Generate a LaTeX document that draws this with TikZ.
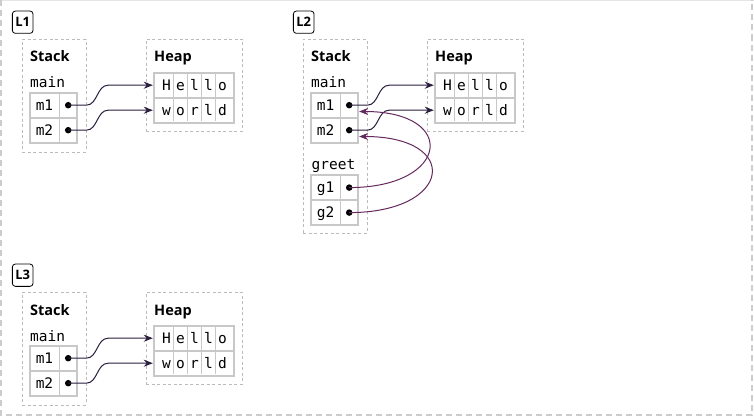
\documentclass[tikz,border=0pt]{standalone}
\usepackage{fontspec}
\setmainfont{Open Sans}
\newfontfamily\monof{DejaVu Sans Mono}
\usetikzlibrary{arrows.meta,calc}
\definecolor{ptrA}{HTML}{2B1F3F}
\definecolor{ptrB}{HTML}{66295F}
\definecolor{cellgray}{HTML}{C8C8C8}
\definecolor{framegray}{HTML}{BBBBBB}
\tikzset{
 lbl/.style={draw=black, line width=0.8pt, rounded corners=3pt, minimum width=20.7pt, minimum height=22.3pt, inner sep=0pt, font=\fontsize{13}{13}\selectfont\bfseries},
 frm/.style={draw=framegray, dash pattern=on 3pt off 2.5pt, line width=0.7pt, inner sep=0pt},
 ttl/.style={anchor=base west, inner sep=0pt, font=\fontsize{14.5}{14}\selectfont\bfseries},
 fname/.style={anchor=base west, inner sep=0pt, font=\monof\fontsize{14.5}{14}\selectfont},
 rowbox/.style={draw=cellgray, line width=2pt, inner sep=0pt, outer sep=0pt, minimum height=25pt},
 txtcell/.style={inner sep=0pt, text height=10pt, text depth=0pt, font=\monof\fontsize{14.5}{14}\selectfont},
 dotn/.style={circle, fill=black, inner sep=0pt, minimum size=6.5pt},
 divline/.style={draw=cellgray, line width=1pt},
 ptr/.style={draw=ptrA, line width=1pt, -{Stealth[length=9pt,width=7pt]}, shorten >=1.5pt},
 gptr/.style={draw=ptrB, line width=1pt, -{Stealth[length=9pt,width=7pt]}},
 outerframe/.style={draw=black!20, line width=2pt, dash pattern=on 6pt off 4pt},
}
% #1 prefix, #2 label, #3 stack frame height
\newcommand\memblock[3]{%
 \node[lbl] (#1lab) at (22.7,22.2) {#2};
 \node[frm, minimum width=63.5pt, minimum height=#3pt, anchor=north west] (#1stk) at (22,39) {};
 \node[frm, minimum width=96pt, minimum height=92pt] (#1hp) at (194,85) {};
 \node[ttl] (#1st) at (30,62) {Stack};
 \node[ttl] (#1ht) at (154,62) {Heap};
 \node[fname] (#1mn) at (30,88) {main};
 \node[rowbox, minimum width=47.3pt] (#1s1) at (53.65,105.2) {};
 \node[rowbox, minimum width=47.3pt] (#1s2) at (53.65,130.2) {};
 \draw[divline] ($(#1s1.north west)+(29,0)$) -- ($(#1s2.south west)+(29,0)$);
 \node[txtcell] (#1n1) at (44.5,105.2) {m1};
 \node[txtcell] (#1n2) at (44.5,130.2) {m2};
 \node[dotn] (#1d1) at (68.2,105.2) {};
 \node[dotn] (#1d2) at (68.2,130.2) {};
 \node[rowbox, minimum width=80pt] (#1h1) at (194.3,85.2) {};
 \node[rowbox, minimum width=80pt] (#1h2) at (194.3,110.2) {};
 \foreach \c [count=\i from 0] in {H,e,l,l,o} {\node[txtcell] (#1a\i) at ({166.5+14*\i},85.2) {\c};}
 \foreach \c [count=\i from 0] in {w,o,r,l,d} {\node[txtcell] (#1b\i) at ({166.5+14*\i},110.2) {\c};}
 \foreach \i in {0,...,3} {\draw[divline] ({173.5+14*\i},74) -- ({173.5+14*\i},121);}
 \draw[ptr] (#1d1.center) -- ++(18,0) to[out=0,in=180] ++(22,-20) -- (#1h1.west);
 \draw[ptr] (#1d2.center) -- ++(18,0) to[out=0,in=180] ++(22,-20) -- (#1h2.west);
}
\begin{document}
\begin{tikzpicture}[x=1pt,y=-1pt]
\useasboundingbox (0,0) rectangle (754,417);
\fill[white] (0,0) rectangle (754,417);
\draw[black!10, line width=1pt] (0,0.5) -- (754,0.5);
\draw[outerframe] (1,0) -- (1,415) -- (751.5,415) -- (751.5,0);
\begin{scope}
 \memblock{a}{L1}{112.5}
\end{scope}
\begin{scope}[shift={(281,0)}]
 \memblock{b}{L2}{194}
 \node[fname] (bgr) at (30.5,169) {greet};
 \node[rowbox, minimum width=47.3pt] (bs3) at (53.65,187.6) {};
 \node[rowbox, minimum width=47.3pt] (bs4) at (53.65,212.6) {};
 \draw[divline] ($(bs3.north west)+(29,0)$) -- ($(bs4.south west)+(29,0)$);
 \node[txtcell] (bn3) at (44.5,187.6) {g1};
 \node[txtcell] (bn4) at (44.5,212.6) {g2};
 \node[dotn] (bd3) at (68.2,187.6) {};
 \node[dotn] (bd4) at (68.2,212.6) {};
 \draw[gptr] (bd3.center) .. controls +(100,0) and +(100,0) .. ($(bs1.east)+(0.8,6.3)$);
 \draw[gptr] (bd4.center) .. controls +(103,0) and +(103,0) .. ($(bs2.east)+(0.8,6.3)$);
\end{scope}
\begin{scope}[shift={(0,253)}]
 \memblock{c}{L3}{112.5}
\end{scope}
\end{tikzpicture}
\end{document}
